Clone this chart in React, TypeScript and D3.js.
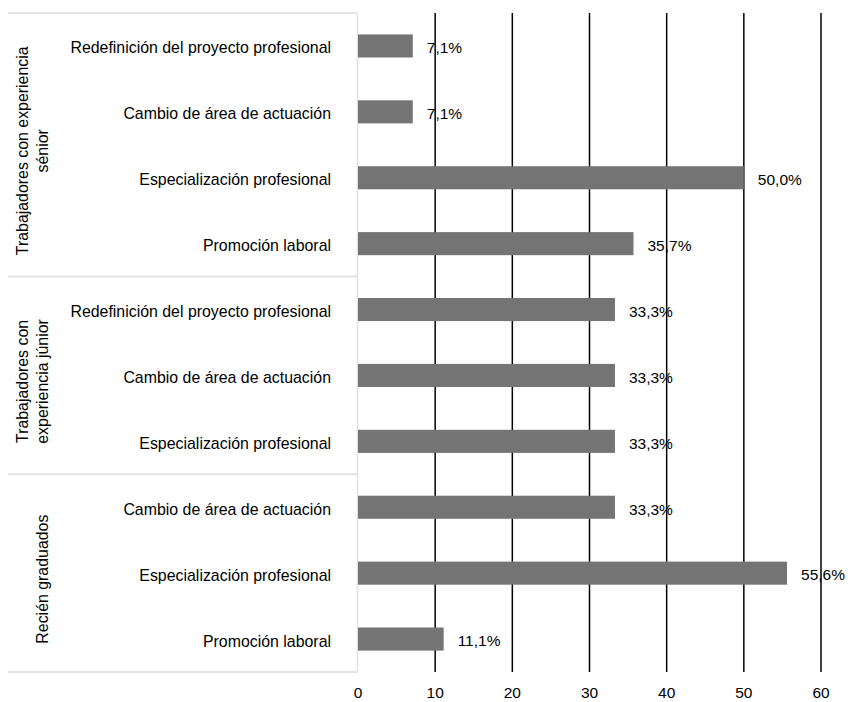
import * as d3 from "d3";
import { useEffect, useRef } from "react";

const groups = [
  { name: ["Trabajadores con experiencia", "sénior"], size: 4 },
  { name: ["Trabajadores con", "experiencia júnior"], size: 3 },
  { name: ["Recién graduados"], size: 3 },
];

const categories = [
  "Redefinición del proyecto profesional",
  "Cambio de área de actuación",
  "Especialización profesional",
  "Promoción laboral",
  "Redefinición del proyecto profesional",
  "Cambio de área de actuación",
  "Especialización profesional",
  "Cambio de área de actuación",
  "Especialización profesional",
  "Promoción laboral",
];

const values = [7.1, 7.1, 50.0, 35.7, 33.3, 33.3, 33.3, 33.3, 55.6, 11.1];

const xTicks = [0, 10, 20, 30, 40, 50, 60];

export default function App() {
  const svgRef = useRef<SVGSVGElement | null>(null);

  useEffect(() => {
    const width = 855;
    const height = 702;
    const left = 358;
    const right = 821;
    const top = 13;
    const bottom = 672;
    const font = "'Liberation Sans', Arial, Helvetica, sans-serif";

    const svg = d3.select(svgRef.current);
    svg.selectAll("*").remove();
    svg.attr("width", width).attr("height", height);

    const x = d3.scaleLinear().domain([0, 60]).range([left, right]);
    const y = d3
      .scaleBand<number>()
      .domain(d3.range(values.length))
      .range([top, bottom])
      .paddingInner(0.65)
      .paddingOuter(0.325);
    const rowH = (bottom - top) / values.length;

    // vertical grid lines
    svg
      .selectAll("line.grid")
      .data(xTicks.filter((t) => t > 0))
      .join("line")
      .attr("class", "grid")
      .attr("x1", (d) => x(d))
      .attr("x2", (d) => x(d))
      .attr("y1", top)
      .attr("y2", bottom)
      .attr("stroke", "#000")
      .attr("stroke-width", 1.5);

    // left axis line (light)
    svg
      .append("line")
      .attr("x1", left - 0.5)
      .attr("x2", left - 0.5)
      .attr("y1", top)
      .attr("y2", bottom)
      .attr("stroke", "#e2e2e2")
      .attr("stroke-width", 1.5);

    // group separators
    const bounds = [0];
    groups.forEach((g) => bounds.push(bounds[bounds.length - 1] + g.size));
    svg
      .selectAll("line.sep")
      .data(bounds)
      .join("line")
      .attr("class", "sep")
      .attr("x1", 8)
      .attr("x2", left - 0.5)
      .attr("y1", (d) => top + d * rowH)
      .attr("y2", (d) => top + d * rowH)
      .attr("stroke", "#e2e2e2")
      .attr("stroke-width", 2);

    // bars
    svg
      .selectAll("rect.bar")
      .data(values)
      .join("rect")
      .attr("class", "bar")
      .attr("x", x(0))
      .attr("y", (_, i) => y(i)!)
      .attr("width", (d) => x(d) - x(0))
      .attr("height", y.bandwidth())
      .attr("fill", "#747474");

    // value labels
    svg
      .selectAll("text.val")
      .data(values)
      .join("text")
      .attr("class", "val")
      .attr("x", (d) => x(d) + 14)
      .attr("y", (_, i) => y(i)! + y.bandwidth() / 2)
      .attr("dy", "0.47em")
      .style("font", `15.5px ${font}`)
      .attr("fill", "#000")
      .text((d) => d.toFixed(1).replace(".", ",") + "%");

    // category labels
    svg
      .selectAll("text.cat")
      .data(categories)
      .join("text")
      .attr("class", "cat")
      .attr("x", 331)
      .attr("y", (_, i) => y(i)! + y.bandwidth() / 2)
      .attr("dy", "0.47em")
      .attr("text-anchor", "end")
      .style("font", `15.9px ${font}`)
      .attr("fill", "#000")
      .text((d) => d);

    // group labels
    groups.forEach((g, gi) => {
      const cy = top + ((bounds[gi] + bounds[gi + 1]) / 2) * rowH + 6;
      const n = g.name.length;
      g.name.forEach((line, li) => {
        const lx = 42 - (n - 1 - li) * 19.5;
        svg
          .append("text")
          .attr("transform", `translate(${lx},${cy}) rotate(-90)`)
          .attr("text-anchor", "middle")
          .attr("dy", "0.35em")
          .style("font", `15.9px ${font}`)
          .attr("fill", "#000")
          .text(line);
      });
    });

    // x tick labels
    svg
      .selectAll("text.tick")
      .data(xTicks)
      .join("text")
      .attr("class", "tick")
      .attr("x", (d) => x(d))
      .attr("y", 698)
      .attr("text-anchor", "middle")
      .style("font", `15.5px ${font}`)
      .attr("fill", "#000")
      .text((d) => d);
  }, []);

  return (
    <svg
      ref={svgRef}
      style={{ position: "absolute", left: 0, top: 0, display: "block" }}
    />
  );
}
